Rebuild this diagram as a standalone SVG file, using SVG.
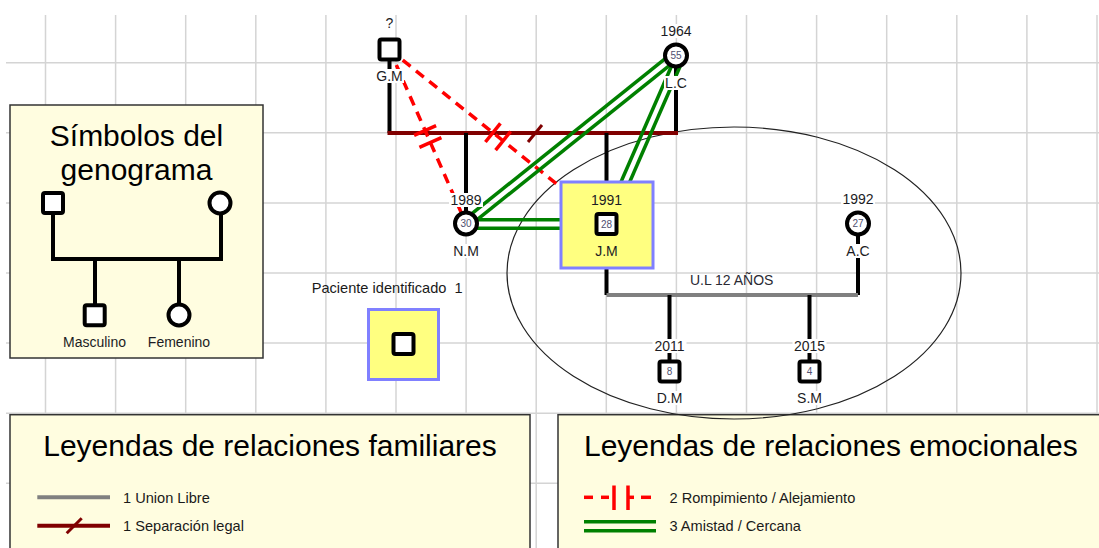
<svg xmlns="http://www.w3.org/2000/svg" width="1099" height="548" viewBox="0 0 1099 548">
<style>
text{font-family:"Liberation Sans",Arial,sans-serif;}
.grid line{stroke:#d4d4d4;stroke-width:1.5}
.legend{fill:#fffde0;stroke:#333;stroke-width:1.5}
.lbl{font-size:14px;fill:#1c1c24;text-anchor:middle}
.num{font-size:10px;fill:#505070;text-anchor:middle}
.bg{fill:#fff}
.sq{fill:#fff;stroke:#000;stroke-width:4}
.ci{fill:#fff;stroke:#000;stroke-width:4}
.blk{stroke:#000;stroke-width:4;fill:none}
.sep{stroke:#800000;stroke-width:4;fill:none}
.ul{stroke:#808080;stroke-width:4;fill:none}
.brk{stroke:#ff0000;stroke-width:3.5;stroke-dasharray:10 7;fill:none}
.bar{stroke:#ff0000;stroke-width:3.5}
.grn{stroke:#008000;stroke-width:3.5;fill:none}
.pi{fill:#ffff80;stroke:#8080ff;stroke-width:3}
.title{font-size:30px;fill:#000}
.ltxt{font-size:14.6px;fill:#1a1a1a}
</style>
<rect width="1099" height="548" fill="#fff"/>
<g class="grid">
<line x1="45.5" y1="15" x2="45.5" y2="548"/><line x1="115.6" y1="15" x2="115.6" y2="548"/><line x1="185.7" y1="15" x2="185.7" y2="548"/><line x1="255.8" y1="15" x2="255.8" y2="548"/><line x1="325.9" y1="15" x2="325.9" y2="548"/><line x1="396" y1="15" x2="396" y2="548"/><line x1="466.1" y1="15" x2="466.1" y2="548"/><line x1="536.2" y1="15" x2="536.2" y2="548"/><line x1="606.3" y1="15" x2="606.3" y2="548"/><line x1="676.4" y1="15" x2="676.4" y2="548"/><line x1="746.5" y1="15" x2="746.5" y2="548"/><line x1="816.6" y1="15" x2="816.6" y2="548"/><line x1="886.7" y1="15" x2="886.7" y2="548"/><line x1="956.8" y1="15" x2="956.8" y2="548"/><line x1="1026.9" y1="15" x2="1026.9" y2="548"/><line x1="1097" y1="15" x2="1097" y2="548"/>
<line x1="6" y1="62.7" x2="1099" y2="62.7"/><line x1="6" y1="132.8" x2="1099" y2="132.8"/><line x1="6" y1="202.9" x2="1099" y2="202.9"/><line x1="6" y1="273" x2="1099" y2="273"/><line x1="6" y1="343.1" x2="1099" y2="343.1"/><line x1="6" y1="413.2" x2="1099" y2="413.2"/><line x1="6" y1="483.3" x2="1099" y2="483.3"/>
</g>

<g id="legend-simbolos">
<rect class="legend" x="10" y="105" width="253" height="253"/>
<text class="title" x="136.5" y="146" text-anchor="middle" style="font-size:30px">Símbolos del</text>
<text class="title" x="136.5" y="180" text-anchor="middle" style="font-size:30px">genograma</text>
<path class="blk" d="M53 203 V259 H221 V203 M95 259 V315 M179 259 V315"/>
<rect class="sq" x="43" y="193" width="20" height="20" rx="2"/>
<circle class="ci" cx="220" cy="203" r="10.5"/>
<rect class="sq" x="84.7" y="305.3" width="20" height="20" rx="2"/>
<circle class="ci" cx="179" cy="315" r="10.5"/>
<text class="lbl" x="94.5" y="346.5" style="font-size:14px">Masculino</text>
<text class="lbl" x="179" y="346.5" style="font-size:14px">Femenino</text>
</g>

<g id="legend-familiares">
<rect class="legend" x="10" y="414.7" width="520" height="145"/>
<text class="title" x="270" y="455.5" text-anchor="middle">Leyendas de relaciones familiares</text>
<line class="ul" x1="37.3" y1="497.3" x2="110" y2="497.3"/>
<text class="ltxt" x="123" y="502.7">1 Union Libre</text>
<line class="sep" x1="37.3" y1="525.7" x2="110" y2="525.7"/>
<line class="sep" x1="66.7" y1="533.3" x2="81.7" y2="518.3" style="stroke-width:3"/>
<text class="ltxt" x="123" y="530.7">1 Separación legal</text>
</g>

<g id="legend-emocionales">
<rect class="legend" x="558" y="414.7" width="560" height="145"/>
<text class="title" x="584" y="455.5">Leyendas de relaciones emocionales</text>
<g class="bar">
<line x1="584" y1="497.3" x2="593" y2="497.3"/>
<line x1="601" y1="497.3" x2="609" y2="497.3"/>
<line x1="614" y1="485.5" x2="614" y2="510"/>
<line x1="628" y1="485.5" x2="628" y2="510"/>
<line x1="628" y1="497.3" x2="634" y2="497.3"/>
<line x1="641" y1="497.3" x2="651" y2="497.3"/>
</g>
<text class="ltxt" x="669.5" y="502.7">2 Rompimiento / Alejamiento</text>
<line class="grn" x1="584" y1="521.7" x2="656" y2="521.7"/>
<line class="grn" x1="584" y1="530.7" x2="656" y2="530.7"/>
<text class="ltxt" x="669.5" y="530.7">3 Amistad / Cercana</text>
</g>

<ellipse id="grupo-familiar" cx="734" cy="273" rx="227" ry="146" fill="none" stroke="#222" stroke-width="1.2"/>

<g id="connectors">
<path class="blk" d="M389.5 49.5 V133"/>
<path class="blk" d="M676 55.5 V133"/>
<path class="sep" d="M387.5 133 H678"/>
<line class="sep" x1="528" y1="142" x2="542" y2="125" style="stroke-width:3"/>
<path class="blk" d="M466 133 V223.5"/>
<path class="blk" d="M606.5 133 V295"/>
<path class="blk" d="M858 223.5 V295"/>
<path class="ul" d="M606.5 295 H858"/>
<path class="blk" d="M669.5 295 V371.5"/>
<path class="blk" d="M809.5 295 V371.5"/>
<line class="brk" x1="389.5" y1="49.5" x2="466" y2="223.5"/>
<line class="bar" x1="414.1" y1="135.4" x2="436.1" y2="125.7"/>
<line class="bar" x1="419.4" y1="147.3" x2="441.4" y2="137.6"/>
<line class="brk" x1="389.5" y1="49.5" x2="606.5" y2="224"/>
<line class="bar" x1="485.4" y1="142" x2="500.4" y2="123.4"/>
<line class="bar" x1="495.6" y1="150.2" x2="510.6" y2="131.5"/>
<line class="grn" x1="678" y1="58.6" x2="468.5" y2="226.6"/>
<line class="grn" x1="673" y1="52.4" x2="463.5" y2="220.4"/>
<line class="grn" x1="684.2" y1="57" x2="610.7" y2="225.5"/>
<line class="grn" x1="676.8" y1="54" x2="603.3" y2="222.5"/>
<line class="grn" x1="466" y1="219.8" x2="562" y2="219.8"/>
<line class="grn" x1="466" y1="228.2" x2="562" y2="228.2"/>
</g>

<g id="node-GM">
<text class="lbl" x="389.5" y="28">?</text>
<rect class="sq" x="379.5" y="39.5" width="20" height="20" rx="2"/>
<rect class="bg" x="375" y="69" width="29" height="14"/>
<text class="lbl" x="389.5" y="81">G.M</text>
</g>
<g id="node-LC">
<rect class="bg" x="659" y="24" width="34" height="14"/>
<text class="lbl" x="676" y="36">1964</text>
<circle class="ci" cx="676" cy="55.5" r="11"/>
<text class="num" x="676" y="59">55</text>
<rect class="bg" x="664" y="76" width="25" height="14"/>
<text class="lbl" x="676" y="88">L.C</text>
</g>
<g id="node-NM">
<rect class="bg" x="449" y="193" width="34" height="14"/>
<text class="lbl" x="466" y="205">1989</text>
<circle class="ci" cx="466" cy="223.5" r="11"/>
<text class="num" x="466" y="227">30</text>
<rect class="bg" x="452" y="244" width="28" height="14"/>
<text class="lbl" x="466" y="256">N.M</text>
</g>
<g id="node-JM">
<rect class="pi" x="561" y="182" width="92" height="86"/>
<text class="lbl" x="606.5" y="205">1991</text>
<rect class="sq" x="596.5" y="214" width="20" height="20" rx="2"/>
<text class="num" x="606.5" y="227.5">28</text>
<text class="lbl" x="606.5" y="256">J.M</text>
</g>
<g id="node-AC">
<rect class="bg" x="841" y="192" width="34" height="14"/>
<text class="lbl" x="858" y="204.3">1992</text>
<circle class="ci" cx="858" cy="223.5" r="11"/>
<text class="num" x="858" y="227">27</text>
<rect class="bg" x="845" y="244" width="26" height="14"/>
<text class="lbl" x="858" y="256">A.C</text>
</g>
<g id="node-DM">
<rect class="bg" x="652.5" y="339" width="34" height="14"/>
<text class="lbl" x="669.5" y="351">2011</text>
<rect class="sq" x="659.5" y="361.5" width="20" height="20" rx="2"/>
<text class="num" x="669.5" y="375">8</text>
<rect class="bg" x="656" y="391" width="28" height="14"/>
<text class="lbl" x="669.5" y="403">D.M</text>
</g>
<g id="node-SM">
<rect class="bg" x="792.5" y="339" width="34" height="14"/>
<text class="lbl" x="809.5" y="351">2015</text>
<rect class="sq" x="799.5" y="361.5" width="20" height="20" rx="2"/>
<text class="num" x="809.5" y="375">4</text>
<rect class="bg" x="796" y="391" width="28" height="14"/>
<text class="lbl" x="809.5" y="403">S.M</text>
</g>
<text class="lbl" x="731.7" y="285" style="fill:#2a2a33">U.L 12 AÑOS</text>

<g id="paciente-identificado">
<text class="ltxt" x="311.7" y="292.7" xml:space="preserve" style="white-space:pre">Paciente identificado  1</text>
<rect class="pi" x="368.5" y="309.5" width="70" height="70"/>
<rect class="sq" x="393.5" y="334" width="20" height="20" rx="2"/>
</g>
</svg>
